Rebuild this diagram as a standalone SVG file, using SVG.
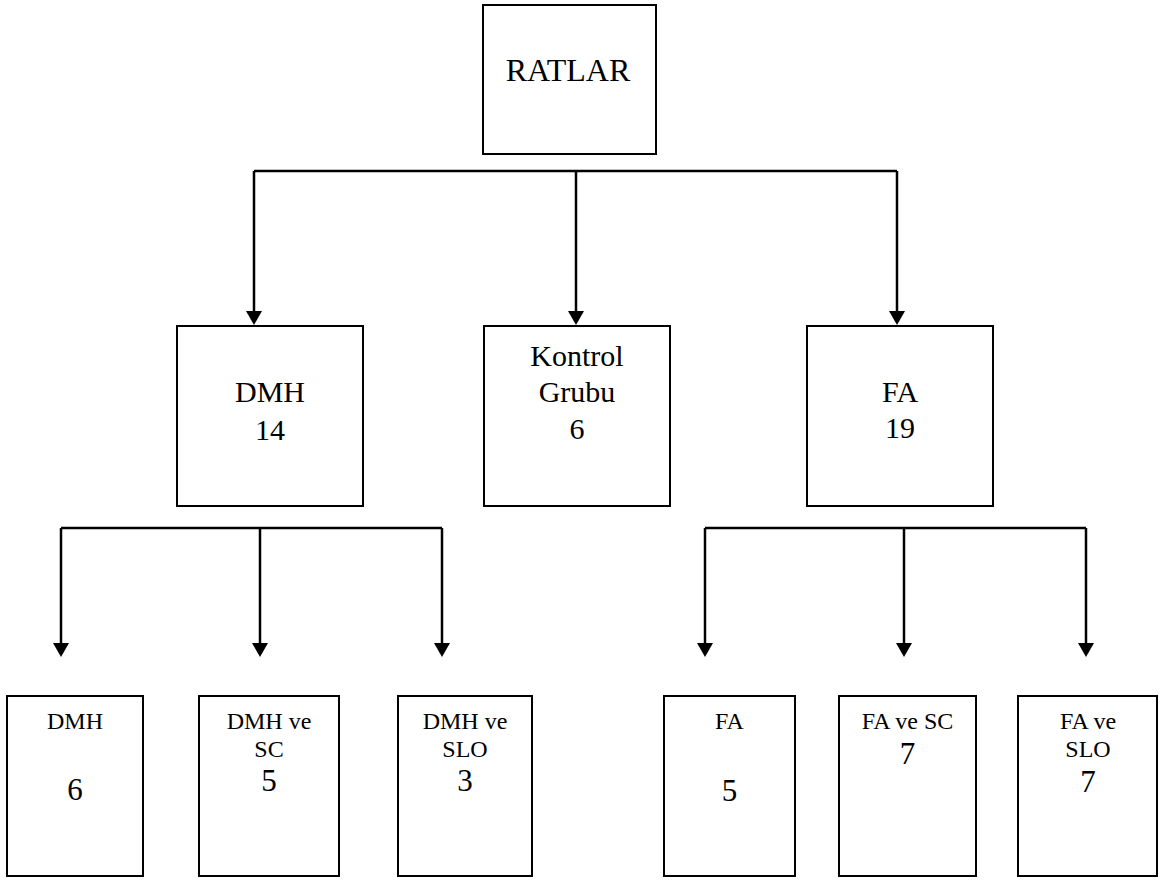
<svg xmlns="http://www.w3.org/2000/svg" width="1160" height="880" viewBox="0 0 1160 880">
  <style>
    .box { fill: #ffffff; stroke: #000000; stroke-width: 2; }
    .conn { fill: none; stroke: #000000; stroke-width: 2.5; }
    text { font-family: "Liberation Serif", "Times New Roman", serif; fill: #000000; text-anchor: middle; }
    .big { font-size: 32px; }
    .mid { font-size: 30px; }
    .small { font-size: 24px; }
    .num { font-size: 31px; }
  </style>
  <defs>
    <marker id="arrow" viewBox="0 0 14 16" markerWidth="14" markerHeight="16" refX="6" refY="8" orient="auto" markerUnits="userSpaceOnUse">
      <path d="M0,0 L14,8 L0,16 Z" fill="#000000"/>
    </marker>
  </defs>
  <rect width="1160" height="880" fill="#ffffff"/>

  <g id="connectors">
    <path class="conn" d="M254,171 H897"/>
    <path class="conn" d="M254,171 V317" marker-end="url(#arrow)"/>
    <path class="conn" d="M576,171 V317" marker-end="url(#arrow)"/>
    <path class="conn" d="M897,171 V317" marker-end="url(#arrow)"/>

    <path class="conn" d="M61,528 H442"/>
    <path class="conn" d="M61,528 V649" marker-end="url(#arrow)"/>
    <path class="conn" d="M260,528 V649" marker-end="url(#arrow)"/>
    <path class="conn" d="M442,528 V649" marker-end="url(#arrow)"/>

    <path class="conn" d="M705,528 H1086"/>
    <path class="conn" d="M705,528 V649" marker-end="url(#arrow)"/>
    <path class="conn" d="M904,528 V649" marker-end="url(#arrow)"/>
    <path class="conn" d="M1086,528 V649" marker-end="url(#arrow)"/>
  </g>

  <g id="ratlar">
    <rect class="box" x="483" y="5" width="173" height="149"/>
    <text class="big" x="568" y="81">RATLAR</text>
  </g>

  <g id="dmh">
    <rect class="box" x="177" y="326" width="186" height="180"/>
    <text class="mid" x="270" y="402">DMH</text>
    <text class="mid" x="270" y="440">14</text>
  </g>

  <g id="kontrol">
    <rect class="box" x="484" y="326" width="186" height="180"/>
    <text class="mid" x="577" y="366">Kontrol</text>
    <text class="mid" x="577" y="402">Grubu</text>
    <text class="mid" x="577" y="439">6</text>
  </g>

  <g id="fa">
    <rect class="box" x="807" y="326" width="186" height="180"/>
    <text class="mid" x="900" y="402">FA</text>
    <text class="mid" x="900" y="438">19</text>
  </g>

  <g id="dmh-only">
    <rect class="box" x="7" y="696" width="136" height="180"/>
    <text class="small" x="75" y="729">DMH</text>
    <text class="num" x="75" y="800">6</text>
  </g>

  <g id="dmh-sc">
    <rect class="box" x="199" y="696" width="140" height="180"/>
    <text class="small" x="269" y="729">DMH ve</text>
    <text class="small" x="269" y="757">SC</text>
    <text class="num" x="269" y="791">5</text>
  </g>

  <g id="dmh-slo">
    <rect class="box" x="398" y="696" width="134" height="180"/>
    <text class="small" x="465" y="729">DMH ve</text>
    <text class="small" x="465" y="757">SLO</text>
    <text class="num" x="465" y="791">3</text>
  </g>

  <g id="fa-only">
    <rect class="box" x="664" y="696" width="131" height="180"/>
    <text class="small" x="729.5" y="729">FA</text>
    <text class="num" x="729.5" y="801">5</text>
  </g>

  <g id="fa-sc">
    <rect class="box" x="839" y="696" width="137" height="180"/>
    <text class="small" x="907.5" y="729">FA ve SC</text>
    <text class="num" x="907.5" y="764">7</text>
  </g>

  <g id="fa-slo">
    <rect class="box" x="1018" y="696" width="139" height="180"/>
    <text class="small" x="1088" y="729">FA ve</text>
    <text class="small" x="1088" y="757">SLO</text>
    <text class="num" x="1088" y="792">7</text>
  </g>
</svg>
